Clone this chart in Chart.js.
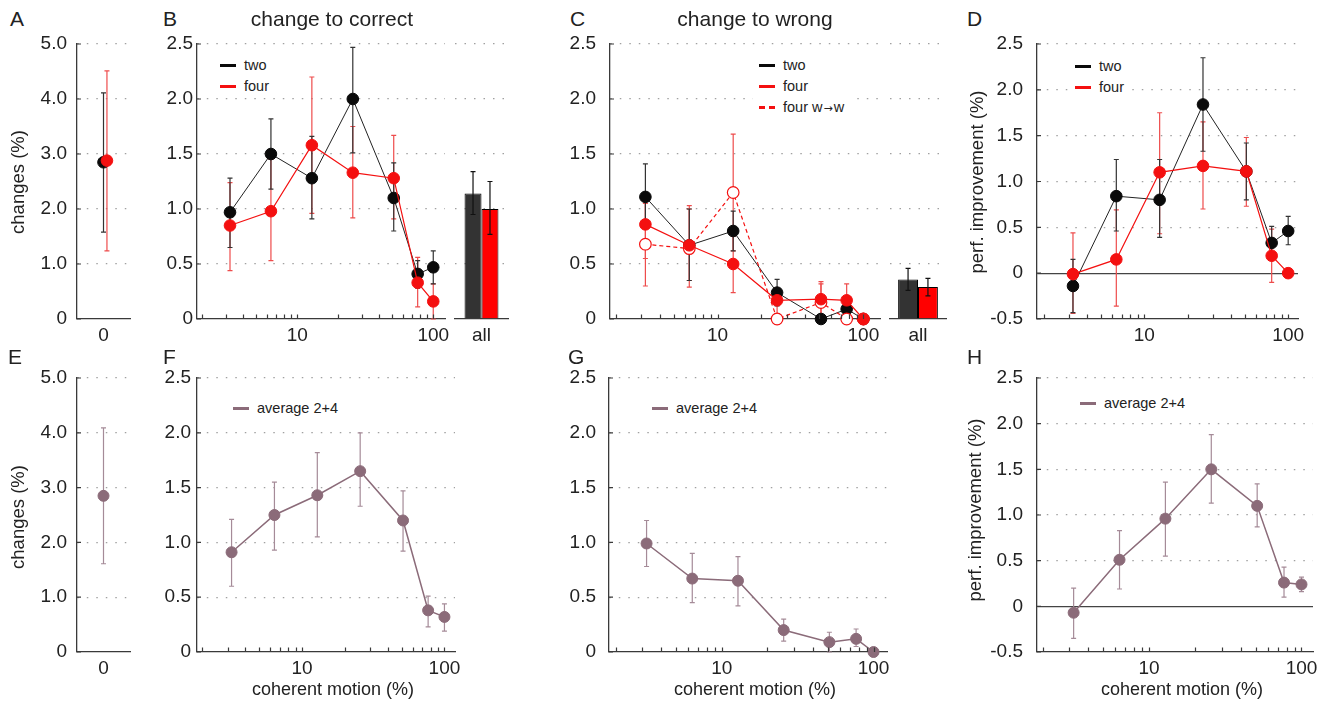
<!DOCTYPE html>
<html>
<head>
<meta charset="utf-8">
<title>change to correct / change to wrong</title>
<script src="https://cdn.jsdelivr.net/npm/chart.js@4.4.1/dist/chart.umd.min.js"></script>
<style>
  body { margin: 0; background: #fff; font-family: 'Liberation Sans', Arial, sans-serif; color: #222; }
  #fig { position: relative; width: 1324px; height: 703px; overflow: hidden; background: #fff; }
  canvas { position: absolute; }
  .txt { position: absolute; white-space: nowrap; line-height: 1; z-index: 5; }
  .letter { font-size: 21px; }
  .title { font-size: 21px; transform: translateX(-50%); }
  .ylab { font-size: 18.5px; transform: translate(-50%, -50%) rotate(-90deg); }
  .xlab { font-size: 18px; transform: translateX(-50%); }
  .legend { position: absolute; background: #fff; z-index: 6; font-size: 14.5px; padding: 1px 6px 1px 6px; }
  .legend .row { height: 21px; display: flex; align-items: center; }
  .legend .swatch { display: inline-block; width: 16px; height: 3px; margin-right: 8px; }
  .legend .arr { font-family: 'DejaVu Sans', sans-serif; font-size: 11px; padding: 0 1px; }
</style>
</head>
<body>
<div id="fig"></div>
<script>
// coherence levels (%), shared by all log-x panels
const coherence = [3.2, 6.4, 12.8, 25.6, 51.2, 76.8, 100];
const majorTicks = [10, 100];
const minorTicks = [2, 3, 4, 5, 6, 7, 8, 9, 10, 20, 30, 40, 50, 60, 70, 80, 90, 100];

// A: changes at 0% coherence
const zeroTwo = [2.85], zeroTwoLo = [1.58], zeroTwoHi = [4.11];
const zeroFour = [2.88], zeroFourLo = [1.24], zeroFourHi = [4.51];

// B: change to correct
const bTwo = [0.97, 1.50, 1.28, 2.00, 1.10, 0.41, 0.47];
const bTwoLo = [0.65, 1.18, 0.91, 1.51, 0.80, 0.28, 0.32];
const bTwoHi = [1.28, 1.82, 1.66, 2.47, 1.42, 0.53, 0.62];
const bFour = [0.85, 0.98, 1.58, 1.33, 1.28, 0.33, 0.16];
const bFourLo = [0.44, 0.53, 0.96, 0.92, 0.91, 0.11, 0.0];
const bFourHi = [1.24, 1.45, 2.20, 1.75, 1.67, 0.56, 0.32];
const bAllTwo = [1.14], bAllTwoLo = [0.95], bAllTwoHi = [1.34];
const bAllFour = [1.00], bAllFourLo = [0.77], bAllFourHi = [1.25];

// C: change to wrong
const cTwo = [1.11, 0.67, 0.80, 0.24, 0.0, 0.09, 0.0];
const cTwoLo = [0.82, 0.35, 0.62, 0.12, null, 0.0, null];
const cTwoHi = [1.41, 1.0, 0.98, 0.36, null, 0.17, null];
const cFour = [0.86, 0.67, 0.50, 0.17, 0.18, 0.17, 0.0];
const cFourLo = [0.30, 0.29, 0.24, 0.05, 0.02, 0.02, null];
const cFourHi = [1.08, 1.03, 0.75, 0.28, 0.34, 0.32, null];
const cFourWW = [0.68, 0.64, 1.15, 0.0, 0.15, 0.0, 0.0];
const cFourWWLo = [0.55, 0.35, 0.62, null, 0.0, null, null];
const cFourWWHi = [1.05, 1.0, 1.68, null, 0.32, null, null];
const cAllTwo = [0.36], cAllTwoLo = [0.26], cAllTwoHi = [0.46];
const cAllFour = [0.29], cAllFourLo = [0.21], cAllFourHi = [0.37];

// D: performance improvement
const dTwo = [-0.14, 0.84, 0.80, 1.84, 1.11, 0.33, 0.46];
const dTwoLo = [-0.43, 0.46, 0.39, 1.33, 0.80, 0.16, 0.31];
const dTwoHi = [0.15, 1.24, 1.24, 2.35, 1.42, 0.51, 0.62];
const dFour = [-0.01, 0.15, 1.10, 1.17, 1.11, 0.19, 0.0];
const dFourLo = [-0.44, -0.36, 0.43, 0.70, 0.73, -0.10, null];
const dFourHi = [0.44, 0.69, 1.75, 1.65, 1.48, 0.48, null];

// E-H: average 2+4
const eAvg = [2.85], eAvgLo = [1.61], eAvgHi = [4.09];
const fAvg = [0.91, 1.25, 1.43, 1.65, 1.20, 0.38, 0.32];
const fAvgLo = [0.60, 0.93, 1.05, 1.33, 0.92, 0.23, 0.19];
const fAvgHi = [1.21, 1.55, 1.82, 2.00, 1.47, 0.51, 0.44];
const gAvg = [0.99, 0.67, 0.65, 0.20, 0.09, 0.12, 0.0];
const gAvgLo = [0.78, 0.45, 0.42, 0.10, 0.0, 0.05, null];
const gAvgHi = [1.20, 0.90, 0.87, 0.30, 0.18, 0.21, null];
const hAvg = [-0.07, 0.51, 0.96, 1.50, 1.10, 0.26, 0.24];
const hAvgLo = [-0.35, 0.19, 0.55, 1.13, 0.87, 0.10, 0.16];
const hAvgHi = [0.20, 0.83, 1.36, 1.88, 1.34, 0.43, 0.32];

const fig = document.getElementById('fig');
const ML = 60, MR = 12, MT = 12, MB = 40; // canvas margins around each plot area
const axisColor = '#3a3a3a', dotColor = '#a0a0a0', textColor = '#222';
const black = '#0a0a0a', blackErr = '#333', red = '#f41010', redErr = '#ee4c4c';
const avg = '#8b6b79', avgErr = '#a58b98';
const dodge = 0.13; // small sideways shift of the red marker in panel A
const tickFont = { size: 19 };

Chart.defaults.font.family = "'Liberation Sans', Arial, sans-serif";
Chart.defaults.color = textColor;

// error bars drawn from the dataset's lo/hi arrays through the y scale
const drawErrorBars = (chart) => {
    const ctx = chart.ctx;
    const yScale = chart.scales.y;
    chart.data.datasets.forEach((ds, di) => {
        if (!ds.lo) return;
        const meta = chart.getDatasetMeta(di);
        ctx.save();
        ctx.strokeStyle = ds.errColor;
        ctx.lineWidth = 1.2;
        meta.data.forEach((el, i) => {
            const lo = ds.lo[i], hi = ds.hi[i];
            if (lo == null || hi == null) return;
            const x = el.x;
            const y1 = yScale.getPixelForValue(lo);
            const y2 = yScale.getPixelForValue(hi);
            ctx.beginPath();
            ctx.moveTo(x, y1); ctx.lineTo(x, y2);
            ctx.moveTo(x - 2.5, y1); ctx.lineTo(x + 2.5, y1);
            ctx.moveTo(x - 2.5, y2); ctx.lineTo(x + 2.5, y2);
            ctx.stroke();
        });
        ctx.restore();
    });
};

const errorBars = {
    id: 'errorBars',
    beforeDatasetsDraw(chart) { if (chart.config.type !== 'bar') drawErrorBars(chart); },
    afterDatasetsDraw(chart) { if (chart.config.type === 'bar') drawErrorBars(chart); }
};

// short tick marks pointing into the plot
const innerTicks = {
    id: 'innerTicks',
    afterDraw(chart, args, opts) {
        if (!opts.on) return;
        const ctx = chart.ctx, a = chart.chartArea;
        const xScale = chart.scales.x, yScale = chart.scales.y;
        ctx.save();
        ctx.strokeStyle = axisColor;
        ctx.lineWidth = 1.2;
        ctx.beginPath();
        if (xScale.type === 'logarithmic') {
            minorTicks.forEach(v => {
                const px = Math.round(xScale.getPixelForValue(v)) + 0.5;
                ctx.moveTo(px, a.bottom); ctx.lineTo(px, a.bottom - 4.5);
            });
        }
        yScale.ticks.forEach(t => {
            const py = yScale.getPixelForValue(t.value);
            ctx.moveTo(a.left, py); ctx.lineTo(a.left + 4, py);
        });
        ctx.stroke();
        ctx.restore();
    }
};

Chart.register(errorBars, innerTicks);

const makeCanvas = (area) => {
    const c = document.createElement('canvas');
    c.width = area.r - area.l + ML + MR;
    c.height = area.b - area.t + MT + MB;
    c.style.left = (area.l - ML) + 'px';
    c.style.top = (area.t - MT) + 'px';
    fig.appendChild(c);
    return c;
};

const fmtY = v => Math.abs(v) < 1e-9 ? '0' : v.toFixed(1);

const linY = (min, max, step, pad, showLabels = true) => ({
    type: 'linear', min, max, bounds: 'data',
    grid: {
        drawTicks: false,
        color: c => Math.abs(c.tick.value - min) < 1e-9 ? 'rgba(0,0,0,0)' : (Math.abs(c.tick.value) < 1e-9 ? '#444' : dotColor),
        lineWidth: c => Math.abs(c.tick.value) < 1e-9 ? 1.3 : 1.2
    },
    border: {
        display: showLabels, color: axisColor, width: 1.3,
        dash: c => (c.tick && Math.abs(c.tick.value) < 1e-9) ? [] : [1.5, 8]
    },
    ticks: { stepSize: step, display: showLabels, padding: pad, color: textColor, font: tickFont, callback: fmtY },
    afterFit: s => { s.width = ML; s.paddingTop = 0; s.paddingBottom = 0; }
});

const logX = (min, max) => ({
    type: 'logarithmic', min, max, bounds: 'data',
    grid: { display: false },
    border: { display: true, color: axisColor, width: 1.3 },
    afterBuildTicks: s => { s.ticks = majorTicks.map(v => ({ value: v })); },
    ticks: { autoSkip: false, maxRotation: 0, padding: -3, color: textColor, font: tickFont, callback: v => String(v) },
    afterFit: s => { s.height = MB; s.paddingLeft = 0; s.paddingRight = 0; }
});

const zeroX = () => ({
    type: 'linear', min: -1, max: 1, bounds: 'data',
    grid: { display: false },
    border: { display: true, color: axisColor, width: 1.3 },
    afterBuildTicks: s => { s.ticks = [{ value: 0 }]; },
    ticks: { autoSkip: false, maxRotation: 0, padding: -3, color: textColor, font: tickFont, callback: () => '0' },
    afterFit: s => { s.height = MB; s.paddingLeft = 0; s.paddingRight = 0; }
});

const catX = () => ({
    type: 'category',
    grid: { display: false },
    border: { display: true, color: axisColor, width: 1.3 },
    ticks: { padding: -3, color: textColor, font: tickFont },
    afterFit: s => { s.height = MB; s.paddingLeft = 0; s.paddingRight = 0; }
});

const baseOpts = (scales, ticksOn = true) => ({
    responsive: false, animation: false, devicePixelRatio: 1, events: [],
    layout: { padding: { top: MT, right: MR, left: 0, bottom: 0 } },
    plugins: { legend: { display: false }, tooltip: { enabled: false }, innerTicks: { on: ticksOn } },
    scales
});

const series = (vals, lo, hi, opt) => Object.assign({
    data: coherence.map((c, i) => ({ x: c, y: vals[i] })),
    lo, hi, tension: 0, clip: false,
    pointRadius: 5.8, pointHoverRadius: 5.8, pointBorderWidth: 1, borderWidth: 1
}, opt);

const blackStyle = { borderColor: '#222', pointBackgroundColor: black, pointBorderColor: black, errColor: blackErr, order: 2 };
const redStyle = { borderColor: red, borderWidth: 1.2, pointBackgroundColor: red, pointBorderColor: red, errColor: redErr, order: 0 };
const avgStyle = { borderColor: avg, borderWidth: 1.5, pointBackgroundColor: avg, pointBorderColor: avg, errColor: avgErr, pointRadius: 5.5 };

const linePanel = (area, xmin, xmax, ymin, ymax, pad, datasets) => new Chart(makeCanvas(area), {
    type: 'line',
    data: { datasets },
    options: baseOpts({ x: logX(xmin, xmax), y: linY(ymin, ymax, 0.5, pad) })
});

const zeroPanel = (area, datasets) => new Chart(makeCanvas(area), {
    type: 'scatter',
    data: { datasets },
    options: baseOpts({ x: zeroX(), y: linY(0, 5, 1, 10) })
});

const barPanel = (area, two, twoLo, twoHi, four, fourLo, fourHi, catPct) => new Chart(makeCanvas(area), {
    type: 'bar',
    data: {
        labels: ['all'],
        datasets: [
            { data: two, lo: twoLo, hi: twoHi, errColor: '#111', backgroundColor: '#333', borderColor: '#000', borderWidth: 1, categoryPercentage: catPct, barPercentage: 1 },
            { data: four, lo: fourLo, hi: fourHi, errColor: '#111', backgroundColor: '#ff0000', borderColor: '#000', borderWidth: 1, categoryPercentage: catPct, barPercentage: 1 }
        ]
    },
    options: baseOpts({ x: catX(), y: linY(0, 2.5, 0.5, 0, false) }, false)
});

// ----- top row -----
zeroPanel({ l: 77, t: 44, r: 130, b: 319 }, [
    { data: [{ x: 0 + dodge, y: zeroFour[0] }], lo: zeroFourLo, hi: zeroFourHi, pointRadius: 5.8, pointBackgroundColor: red, pointBorderColor: red, errColor: redErr, order: 0 },
    { data: [{ x: 0, y: zeroTwo[0] }], lo: zeroTwoLo, hi: zeroTwoHi, pointRadius: 5.8, pointBackgroundColor: black, pointBorderColor: black, errColor: blackErr, order: 1 }
]);

linePanel({ l: 197, t: 44, r: 445, b: 319 }, 1.83, 122, 0, 2.5, 4, [
    series(bFour, bFourLo, bFourHi, redStyle),
    series(bTwo, bTwoLo, bTwoHi, blackStyle)
]);
barPanel({ l: 455, t: 44, r: 508, b: 319 }, bAllTwo, bAllTwoLo, bAllTwoHi, bAllFour, bAllFourLo, bAllFourHi, 0.64);

linePanel({ l: 610, t: 44, r: 880, b: 319 }, 1.83, 130, 0, 2.5, 14, [
    series(cFour, cFourLo, cFourHi, redStyle),
    series(cFourWW, cFourWWLo, cFourWWHi, { borderColor: red, borderWidth: 1.2, borderDash: [4, 3], pointBackgroundColor: '#fff', pointBorderColor: red, pointBorderWidth: 1.2, errColor: redErr, order: 1 }),
    series(cTwo, cTwoLo, cTwoHi, blackStyle)
]);
barPanel({ l: 890, t: 44, r: 946, b: 319 }, cAllTwo, cAllTwoLo, cAllTwoHi, cAllFour, cAllFourLo, cAllFourHi, 0.71);

linePanel({ l: 1037, t: 44, r: 1298, b: 319 }, 1.8, 117, -0.5, 2.5, 14, [
    series(dFour, dFourLo, dFourHi, redStyle),
    series(dTwo, dTwoLo, dTwoHi, blackStyle)
]);

// ----- bottom row -----
zeroPanel({ l: 77, t: 378, r: 130, b: 652 }, [
    { data: [{ x: 0, y: eAvg[0] }], lo: eAvgLo, hi: eAvgHi, pointRadius: 5.5, pointBackgroundColor: avg, pointBorderColor: avg, errColor: avgErr }
]);
linePanel({ l: 197, t: 378, r: 455, b: 652 }, 1.83, 118.6, 0, 2.5, 6, [series(fAvg, fAvgLo, fAvgHi, avgStyle)]);
linePanel({ l: 609, t: 378, r: 887, b: 652 }, 1.81, 122.7, 0, 2.5, 13, [series(gAvg, gAvgLo, gAvgHi, avgStyle)]);
linePanel({ l: 1037, t: 378, r: 1313, b: 652 }, 1.84, 119, -0.5, 2.5, 14, [series(hAvg, hAvgLo, hAvgHi, avgStyle)]);

// ----- text: panel letters, titles, axis labels -----
const addText = (cls, text, x, y) => {
    const d = document.createElement('div');
    d.className = 'txt ' + cls;
    d.textContent = text;
    d.style.left = x + 'px';
    d.style.top = y + 'px';
    fig.appendChild(d);
};
addText('letter', 'A', 10, 8);
addText('letter', 'B', 163, 8);
addText('letter', 'C', 570, 8);
addText('letter', 'D', 967, 8);
addText('letter', 'E', 8, 346);
addText('letter', 'F', 163, 346);
addText('letter', 'G', 568, 346);
addText('letter', 'H', 967, 346);
addText('title', 'change to correct', 332, 8);
addText('title', 'change to wrong', 755, 8);
addText('ylab', 'changes (%)', 18, 182);
addText('ylab', 'changes (%)', 18, 517);
addText('ylab', 'perf. improvement (%)', 977, 182);
addText('ylab', 'perf. improvement (%)', 975, 510);
addText('xlab', 'coherent motion (%)', 333, 680);
addText('xlab', 'coherent motion (%)', 755, 680);
addText('xlab', 'coherent motion (%)', 1182, 680);

// ----- legends -----
const addLegend = (x, y, rows) => {
    const box = document.createElement('div');
    box.className = 'legend';
    box.style.left = (x - 6) + 'px';
    box.style.top = (y - 11.5) + 'px';
    rows.forEach(r => {
        const row = document.createElement('div');
        row.className = 'row';
        const sw = document.createElement('span');
        sw.className = 'swatch';
        sw.style.background = r.swatch;
        const label = document.createElement('span');
        label.innerHTML = r.html;
        row.appendChild(sw);
        row.appendChild(label);
        box.appendChild(row);
    });
    fig.appendChild(box);
};
const dashed = `linear-gradient(to right, ${red} 0 6px, transparent 6px 10px, ${red} 10px 16px)`;
addLegend(220, 65, [{ swatch: black, html: 'two' }, { swatch: red, html: 'four' }]);
addLegend(759, 65, [{ swatch: black, html: 'two' }, { swatch: red, html: 'four' }, { swatch: dashed, html: 'four w<span class="arr">&#8594;</span>w' }]);
addLegend(1075, 66, [{ swatch: black, html: 'two' }, { swatch: red, html: 'four' }]);
addLegend(233, 408, [{ swatch: avg, html: 'average 2+4' }]);
addLegend(652, 408, [{ swatch: avg, html: 'average 2+4' }]);
addLegend(1080, 403, [{ swatch: avg, html: 'average 2+4' }]);
</script>
</body>
</html>
